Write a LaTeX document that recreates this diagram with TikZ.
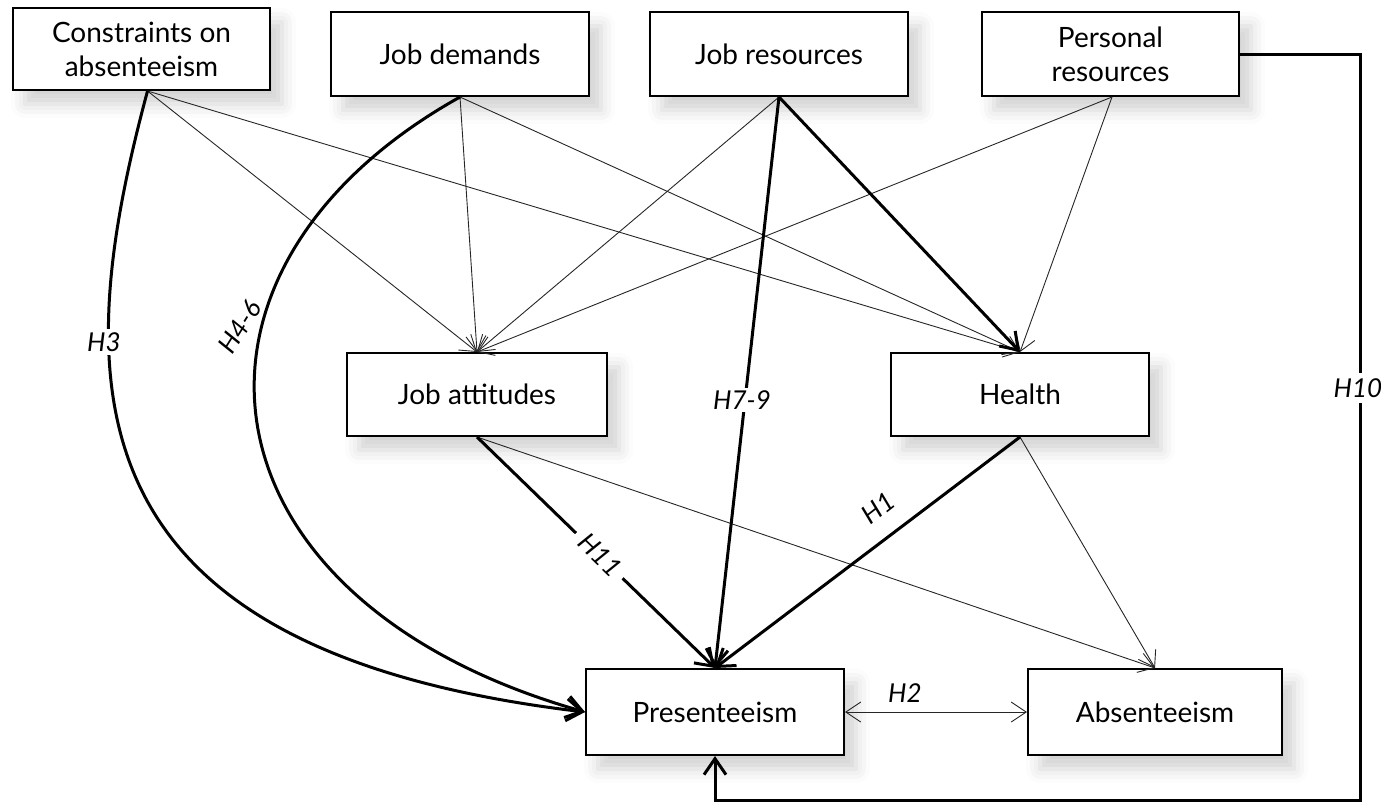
\documentclass[tikz,border=0pt]{standalone}
\usepackage{fontspec}
\setmainfont{Lato}
\usetikzlibrary{arrows.meta,shadows.blur,calc}
\begin{document}
\begin{tikzpicture}[x=1pt,y=-1pt,
  box/.style={draw=black,line width=2pt,fill=white,inner sep=0pt,align=center,
    font=\fontsize{28}{34}\selectfont,
    blur shadow={shadow xshift=12pt,shadow yshift=-14pt,shadow blur radius=14pt,shadow opacity=18}},
  thinarr/.style={line width=0.9pt,draw=black!85,-{Straight Barb[length=15pt,width=20pt]}},
  thickarr/.style={line width=3pt,-{Straight Barb[length=16pt,width=22pt]}},
  lab/.style={font=\fontsize{26}{30}\selectfont\itshape,fill=white,inner sep=3pt}]
\useasboundingbox (0,0) rectangle (1381,804);
% boxes
\node[box,minimum width=257pt,minimum height=82pt] (con) at (141.5,49) {Constraints on\\absenteeism};
\node[box,minimum width=258pt,minimum height=84pt] (dem) at (460,54) {Job demands};
\node[box,minimum width=258pt,minimum height=84pt] (res) at (779,54) {Job resources};
\node[box,minimum width=257pt,minimum height=84pt] (per) at (1110.5,54) {Personal\\resources};
\node[box,minimum width=260pt,minimum height=83pt] (att) at (477,394.5) {Job attitudes};
\node[box,minimum width=258pt,minimum height=83pt] (hea) at (1020,394.5) {Health};
\node[box,minimum width=258pt,minimum height=86pt] (pre) at (715,712) {Presenteeism};
\node[box,minimum width=254pt,minimum height=86pt] (abs) at (1155,712) {Absenteeism};
\coordinate (conS) at ([xshift=6pt]con.south);
\coordinate (perS) at ([xshift=1.5pt]per.south);
\coordinate (h10c) at (1360,800);
% thin connectors
\draw[thinarr] (conS) -- (att.north);
\draw[thinarr] (conS) -- (hea.north);
\draw[thinarr] (dem.south) -- (att.north);
\draw[thinarr] (dem.south) -- (hea.north);
\draw[thinarr] (res.south) -- (att.north);
\draw[thinarr] (perS) -- (att.north);
\draw[thinarr] (perS) -- (hea.north);
\draw[thinarr] (att.south) -- (abs.north);
\draw[thinarr] (hea.south) -- (abs.north);
\draw[line width=0.9pt,draw=black!85,{Straight Barb[length=15pt,width=20pt]}-{Straight Barb[length=15pt,width=20pt]}] (pre.east) -- (abs.west);
% thick connectors
\draw[thickarr] (res.south) -- (hea.north);
\draw[thickarr] (res.south) -- (pre.north);
\draw[thickarr] (att.south) -- (pre.north);
\draw[thickarr] (hea.south) -- (pre.north);
\draw[thickarr] (conS) .. controls (70,380) and (60,650) .. (pre.west);
\draw[thickarr] (dem.south) .. controls (150,270) and (190,600) .. (pre.west);
\draw[thickarr] (per.east) -| (h10c) -| (pre.south);
% labels
\node[lab] (l3) at (104,342) {H3};
\node[lab,fill=none,rotate=58] (l46) at (240,327) {H4-6};
\node[lab] (l79) at (742,400) {H7-9};
\node[lab,rotate=-44,inner sep=8pt] (l11) at (600,555) {H11};
\node[lab,fill=none,rotate=38] (l1) at (878,508) {H1};
\node[lab,fill=none] (l2) at (905,693) {H2};
\node[lab,inner sep=5pt] (l10) at (1358,388) {H10};
\end{tikzpicture}
\end{document}
